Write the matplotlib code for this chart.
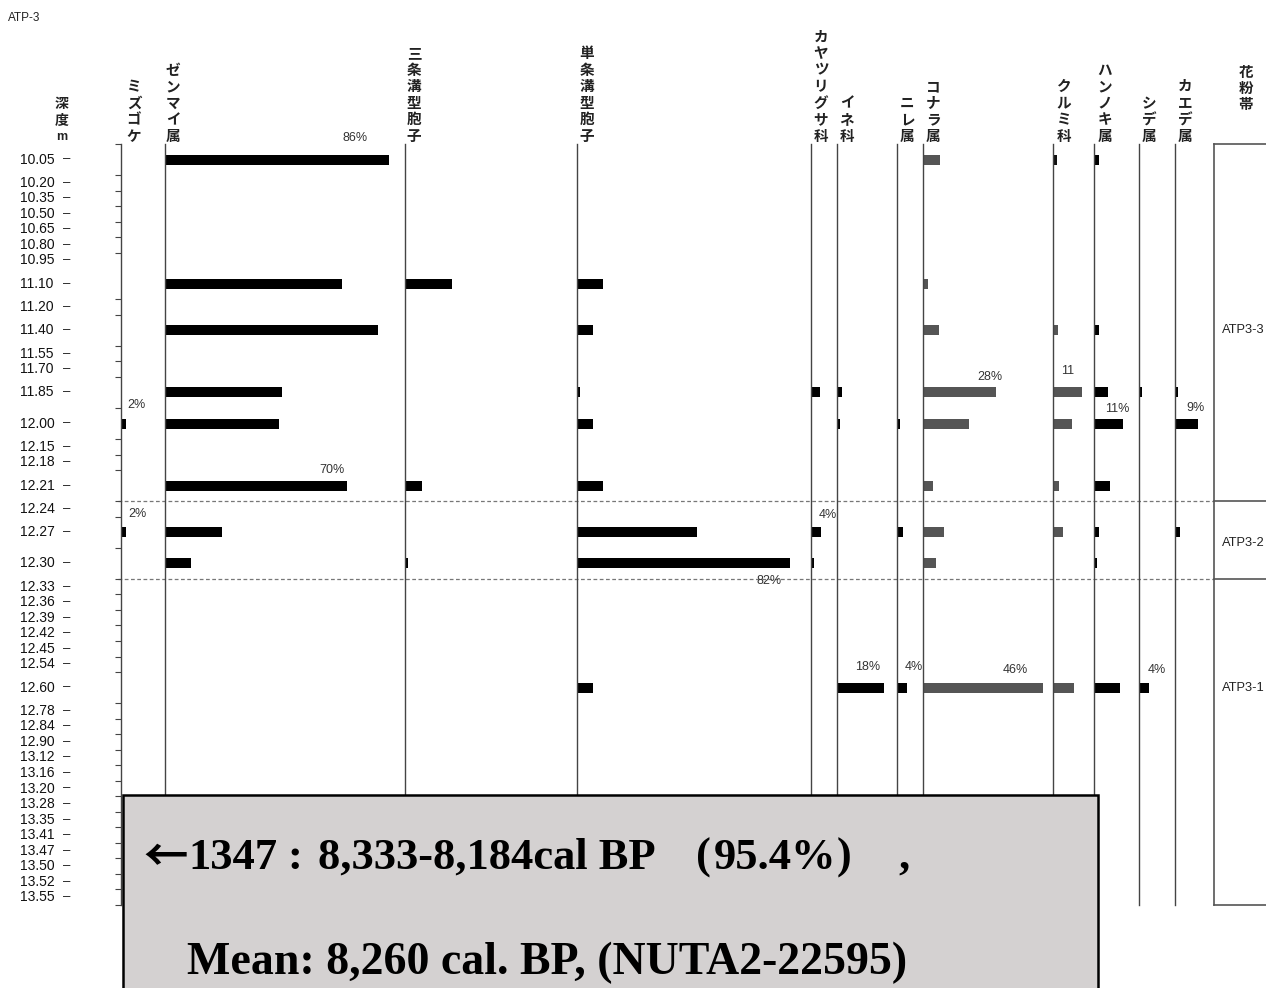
import matplotlib
matplotlib.use("Agg")
import matplotlib.pyplot as plt
from matplotlib.patches import Rectangle
import numpy as np

plt.rcParams['font.family'] = ['Liberation Sans', 'Noto Sans CJK JP', 'DejaVu Sans']

# ---------------- data ----------------
depths = ["10.05", "10.20", "10.35", "10.50", "10.65", "10.80", "10.95", "11.10",
          "11.20", "11.40", "11.55", "11.70", "11.85", "12.00", "12.15", "12.18",
          "12.21", "12.24", "12.27", "12.30", "12.33", "12.36", "12.39", "12.42",
          "12.45", "12.54", "12.60", "12.78", "12.84", "12.90", "13.12", "13.16",
          "13.20", "13.28", "13.35", "13.41", "13.47", "13.50", "13.52", "13.55"]
sample_depths = ["10.05", "11.10", "11.40", "11.85", "12.00", "12.21", "12.27", "12.30", "12.60"]

taxa = ["ミズゴケ", "ゼンマイ属", "三条溝型胞子", "単条溝型胞子", "カヤツリグサ科", "イネ科",
        "ニレ属", "コナラ属", "クルミ科", "ハンノキ属", "シデ属", "カエデ属"]
mizugoke = [0, 0, 0, 0, 2, 0, 2, 0, 0]
zenmai = [86, 68, 82, 45, 44, 70, 22, 10, 0]
sanjo = [0, 18, 0, 0, 0, 6.5, 0, 1, 0]
tanjo = [0, 10, 6, 1, 6, 10, 46, 82, 6]
kayatsuri = [0, 0, 0, 3.5, 0, 0, 4, 1, 0]
ine = [0, 0, 0, 2, 1, 0, 0, 0, 18]
nire = [0, 0, 0, 0, 1, 0, 2.3, 0, 4]
konara = [6.5, 2, 6, 28, 17.5, 4, 8, 5, 46]
kurumi = [1.5, 0, 2, 11, 7.3, 2.3, 4, 0, 8]
hannoki = [2, 0, 2, 5.4, 11, 6.3, 2, 1, 10]
shide = [0, 0, 0, 1.3, 0, 0, 0, 0, 4]
kaede = [0, 0, 0, 1, 9, 0, 2, 0, 0]
values = [mizugoke, zenmai, sanjo, tanjo, kayatsuri, ine, nire, konara, kurumi, hannoki, shide, kaede]

# percent annotations: (taxon index, sample depth, text)
annotations = [(1, "10.05", "86%"), (0, "12.00", "2%"), (1, "12.21", "70%"),
               (0, "12.27", "2%"), (4, "12.27", "4%"), (3, "12.30", "82%"),
               (7, "11.85", "28%"), (8, "11.85", "11"), (9, "12.00", "11%"),
               (11, "12.00", "9%"), (5, "12.60", "18%"), (6, "12.60", "4%"),
               (7, "12.60", "46%"), (10, "12.60", "4%")]
zones = ["ATP3-3", "ATP3-2", "ATP3-1"]
zone_bounds_after = ["12.21", "12.30"]
box_line1 = ["←", "1347", ":", "8,333-8,184cal BP", "(", "95.4%", ")", ","]
box_line2 = "Mean: 8,260 cal. BP, (NUTA2-22595)"

# ---------------- layout (pixels) ----------------
W, H = 1266, 988
TOP, BOT = 144, 905
base_px = [121, 165, 405, 577, 811, 837, 897, 923, 1053, 1094, 1139, 1175]
header_x = [134, 173, 414, 587, 821, 847, 907, 933, 1064, 1105, 1149, 1185]
PX_PER_PCT = 2.6
# label offsets (pixels, relative to bar end / row centre)
ann_offsets = [(-34, 22), (10, 19), (-15, 16), (11, 18), (6, 17), (-21, -18),
               (-6, 15), (-14, 21), (-5, 15), (-3, 16), (-16, 21), (6, 21),
               (-27, 18), (7, 18)]
line1_x = [143, 188, 287, 318, 696, 714, 837, 898]
line1_fam = [['Noto Sans CJK JP']] + [['Liberation Serif']] * 7
GRAY = '#555555'
bar_colors = {7: GRAY, 8: ['#111111'] + [GRAY] * 8}
LINE = '#444444'

# rows: sample rows are double height
units = np.array([2 if d in sample_depths else 1 for d in depths], dtype=float)
edges = np.concatenate([[0], np.cumsum(units)])
centers = (edges[:-1] + edges[1:]) / 2
NU = edges[-1]
upx = (BOT - TOP) / NU
row_of = {d: centers[i] for i, d in enumerate(depths)}
edge_after = {d: edges[i + 1] for i, d in enumerate(depths)}

def u2px(u):
    return TOP + u * upx

fig = plt.figure(figsize=(W / 100, H / 100), dpi=100)
bg = fig.add_axes([0, 0, 1, 1])
bg.set_xlim(0, W)
bg.set_ylim(H, 0)
bg.axis('off')
bg.set_zorder(0)

bg.text(8, 18, "ATP-3", fontsize=8.5, va='center', ha='left', color='#222222')

# depth header
for ch, y in zip(["深", "度", "m"], [104, 121, 137]):
    bg.text(62, y, ch, fontsize=10 if ch != "m" else 9, fontweight='bold',
            ha='center', va='center', color='#222222')

# depth labels
for d in depths:
    y = u2px(row_of[d])
    bg.text(20, y, d, fontsize=10, ha='left', va='center', color='#111111')
    bg.text(67, y, "–", fontsize=9.5, ha='center', va='center', color='#111111')

# headers (vertical stacked characters)
for name, xc in zip(taxa, header_x):
    n = len(name)
    for k, ch in enumerate(name):
        y = 136 - (n - 1 - k) * 16.6
        bg.text(xc, y, ch, fontsize=10.5, fontweight='bold', ha='center',
                va='center', color='#222222', family=['Noto Sans CJK JP'])
for k, ch in enumerate("花粉帯"):
    bg.text(1246, 72 + k * 16, ch, fontsize=10.5, fontweight='bold', ha='center',
            va='center', color='#222222', family=['Noto Sans CJK JP'])

# zone boundaries
zb_px = [u2px(edge_after[d]) for d in zone_bounds_after]
for y in zb_px:
    bg.plot([118, 1214], [y, y], color='#777777', lw=0.9, ls=(0, (3, 2)))
    bg.plot([1214, W], [y, y], color=GRAY, lw=1.2)
bg.plot([1214, 1214], [TOP, BOT], color=GRAY, lw=1.2)
bg.plot([1214, W], [TOP, TOP], color=GRAY, lw=1.2)
bg.plot([1214, W], [BOT, BOT], color=GRAY, lw=1.2)
zone_y = [u2px(row_of["11.40"]), (zb_px[0] + zb_px[1]) / 2 + 3, u2px(row_of["12.60"])]
for z, y in zip(zones, zone_y):
    bg.text(1222, y, z, fontsize=9.3, ha='left', va='center', color='#222222')

# taxon axes
col_axes = []
AX_W = 230
for i, (name, vals) in enumerate(zip(taxa, values)):
    x0 = base_px[i]
    ax = fig.add_axes([x0 / W, (H - BOT) / H, AX_W / W, (BOT - TOP) / H])
    ax.set_zorder(1)
    ax.patch.set_visible(False)
    ax.set_xlim(0, AX_W / PX_PER_PCT)
    ax.set_ylim(NU, 0)
    for s in ['top', 'right', 'bottom']:
        ax.spines[s].set_visible(False)
    ax.spines['left'].set_color(LINE)
    ax.spines['left'].set_linewidth(1.0)
    ax.set_xticks([])
    if i == 0:
        tick_edges = [e for j, e in enumerate(edges) if not (0 < j < len(depths) and depths[j] == "11.10")]
        ax.set_yticks(tick_edges)
        ax.tick_params(axis='y', direction='out', length=4, width=0.8,
                       color=LINE, labelleft=False)
    else:
        ax.set_yticks([])
    ys = [row_of[d] for d in sample_depths]
    c = bar_colors.get(i, 'black')
    ax.barh(ys, vals, height=10 / upx, left=0, color=c, linewidth=0)
    col_axes.append(ax)

# annotations
for (ti, d, txt), (dx, dy) in zip(annotations, ann_offsets):
    v = values[ti][sample_depths.index(d)]
    col_axes[ti].annotate(txt, xy=(v, row_of[d]), xytext=(dx, dy),
                          textcoords='offset pixels', ha='center', va='center',
                          fontsize=9, color='#333333', annotation_clip=False)

# bottom box overlay
ov = fig.add_axes([0, 0, 1, 1])
ov.set_zorder(5)
ov.patch.set_visible(False)
ov.set_xlim(0, W)
ov.set_ylim(H, 0)
ov.axis('off')
ov.add_patch(Rectangle((123, 795), 1098 - 123, 200, facecolor='#d4d1d1',
                       edgecolor='black', lw=1.8, clip_on=False))
for seg, x, fam in zip(box_line1, line1_x, line1_fam):
    ov.text(x, 858, seg, fontsize=32, fontweight='bold', ha='left', va='center',
            family=fam, color='black')
ov.text(187, 963, box_line2, fontsize=33, fontweight='bold', ha='left', va='center',
        family=['Liberation Serif', 'Noto Sans CJK JP'], color='black')

fig.savefig("out.png", dpi=100)
